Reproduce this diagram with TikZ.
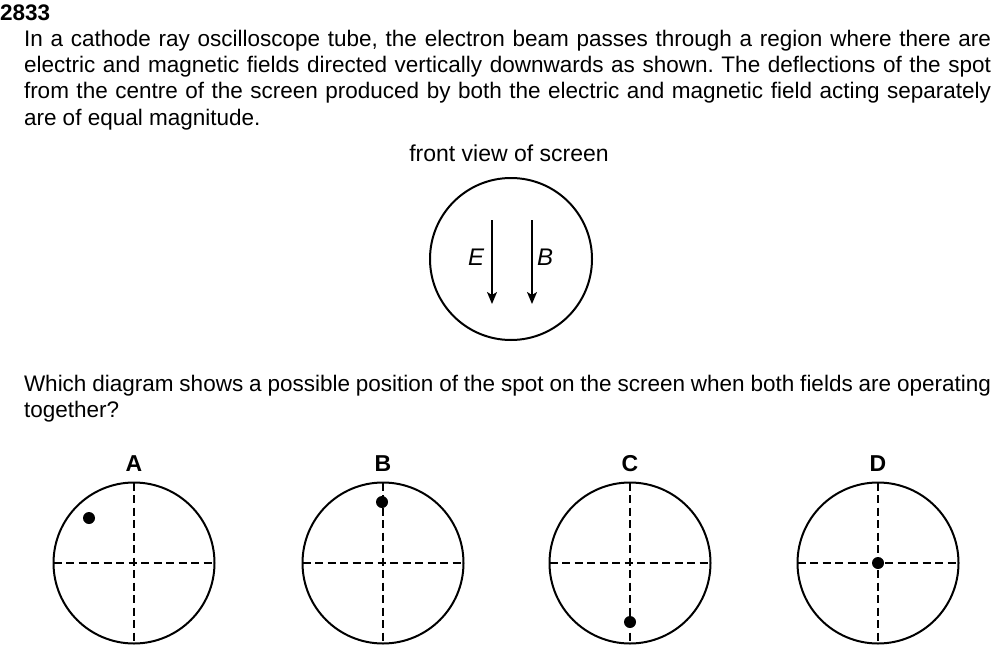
\documentclass[tikz,border=0pt]{standalone}
\usepackage{fontspec}
\setmainfont{Liberation Sans}
\usetikzlibrary{arrows.meta}
\newcommand{\fullline}[1]{\makebox[967pt][s]{#1}}
\begin{document}
\frenchspacing
\begin{tikzpicture}
  [x=1pt,y=-1pt,every node/.style={inner sep=0pt,outer sep=0pt,font=\fontsize{22.5}{26}\selectfont},
   line/.style={anchor=base west},
   screen/.style={circle,draw,line width=2pt,minimum size=161pt},
   axis/.style={line width=1.8pt,dash pattern=on 8pt off 4.5pt},
   spot/.style={circle,fill,minimum size=12pt},
   field/.style={line width=1.6pt,-{Stealth[length=12pt,width=10pt,inset=3pt]}}]
  \useasboundingbox (0,0) rectangle (1001,669);

  % question text
  \node[line,font=\bfseries\fontsize{22.5}{26}\selectfont] (num) at (0,21) {2833};
  \node[line] (t1) at (24,47) {\fullline{In a cathode ray oscilloscope tube, the electron beam passes through a region where there are}};
  \node[line] (t2) at (24,73) {\fullline{electric and magnetic fields directed vertically downwards as shown. The deflections of the spot}};
  \node[line] (t3) at (24,99) {\fullline{from the centre of the screen produced by both the electric and magnetic field acting separately}};
  \node[line] (t4) at (24,125) {are of equal magnitude.};
  \node[anchor=base,font=\fontsize{23}{26}\selectfont] (front) at (509,161) {front view of screen};

  % screen with fields
  \node[screen,minimum size=162pt] (scr) at (511,259) {};
  \coordinate (Etop) at (492,220);
  \coordinate (Ebot) at (492,304);
  \coordinate (Btop) at (532,220);
  \coordinate (Bbot) at (532,304);
  \draw[field] (Etop) -- (Ebot);
  \draw[field] (Btop) -- (Bbot);
  \node[font=\itshape\fontsize{24}{26}\selectfont] (E) at (476,257) {E};
  \node[font=\itshape\fontsize{24}{26}\selectfont] (B) at (545,257) {B};

  \node[line] (w1) at (24,391) {\fullline{Which diagram shows a possible position of the spot on the screen when both fields are operating}};
  \node[line] (w2) at (24,417) {together?};

  % answer screens
  \foreach \n/\x/\dx/\dy in {A/134/89/518, B/383/382/502, C/630/630/622, D/878/878/563}
  {
    \node[screen] (s\n) at (\x,563) {};
    \draw[axis] (s\n.north) -- (s\n.south);
    \draw[axis] (s\n.west) -- (s\n.east);
    \node[spot] (d\n) at (\dx,\dy) {};
    \node[anchor=base,font=\bfseries\fontsize{23}{26}\selectfont] (l\n) at (\x,471) {\n};
  }

\end{tikzpicture}
\end{document}
